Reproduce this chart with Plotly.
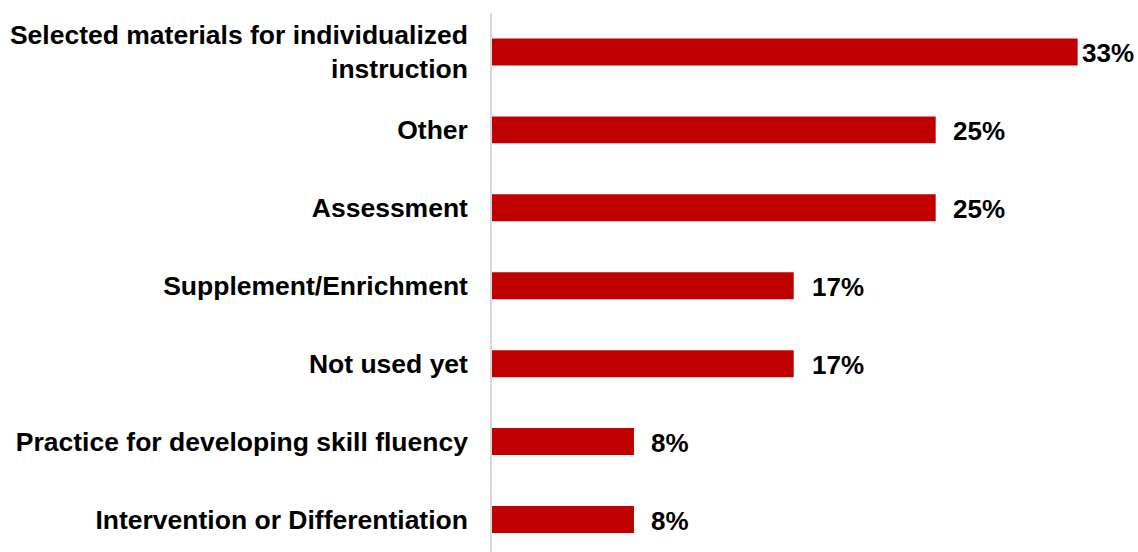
import plotly.graph_objects as go

categories = [
    "Selected materials for individualized<br>instruction",
    "Other",
    "Assessment",
    "Supplement/Enrichment",
    "Not used yet",
    "Practice for developing skill fluency",
    "Intervention or Differentiation",
]
values = [33, 25, 25, 17, 17, 8, 8]
label_shift = [2, 15, 15, 16, 16, 15, 15]

FONT = "Liberation Sans, Arial, sans-serif"

fig = go.Figure(go.Bar(
    x=values, y=categories, orientation="h",
    marker=dict(color="#C00000", line=dict(width=0)),
    hoverinfo="skip",
))

for v, c, s in zip(values, categories, label_shift):
    fig.add_annotation(x=v, y=c, text=f"{v}%", showarrow=False, xanchor="left",
                       xshift=s, yshift=-1,
                       font=dict(family=FONT, size=26, color="#000000", weight="bold"))

fig.update_layout(
    width=1138, height=552,
    margin=dict(l=492, r=0, t=12.5, b=0),
    paper_bgcolor="white", plot_bgcolor="white",
    bargap=0.654,
    showlegend=False,
    font=dict(family=FONT, color="#000000"),
)
fig.update_xaxes(range=[0, 36.4], visible=False, showgrid=False, zeroline=False)
fig.update_yaxes(
    range=[6.417, -0.5], showgrid=False, zeroline=False,
    showline=True, linecolor="#D9D9D9", linewidth=1.5,
    ticks="", ticklabelstandoff=17,
    tickfont=dict(family=FONT, size=26.5, color="#000000", weight="bold"),
)

fig.write_html("out.html",
               config={"displayModeBar": False},
               post_script="document.body.style.margin='0';document.body.style.overflow='hidden';")
